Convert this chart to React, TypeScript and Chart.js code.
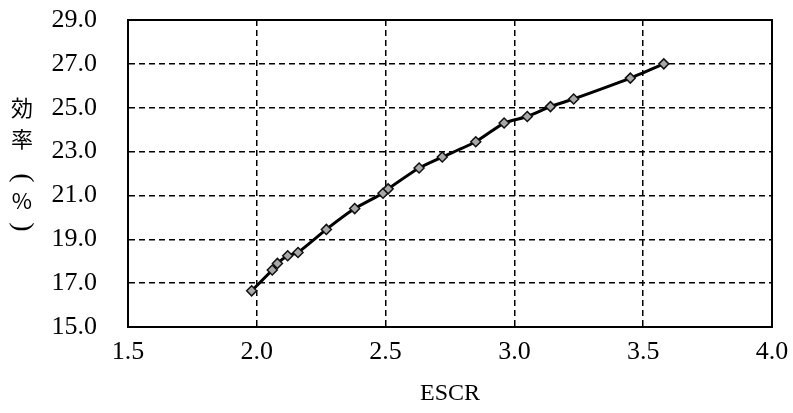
import { useEffect, useRef } from "react";
import { Chart, registerables } from "chart.js";

Chart.register(...registerables);

// ESCR vs. efficiency samples
const escr = [1.98, 2.06, 2.08, 2.12, 2.16, 2.27, 2.38, 2.49, 2.51, 2.63, 2.72, 2.85, 2.96, 3.05, 3.14, 3.23, 3.45, 3.58];
const efficiency = [16.65, 17.6, 17.9, 18.25, 18.4, 19.45, 20.4, 21.1, 21.3, 22.25, 22.75, 23.45, 24.3, 24.6, 25.05, 25.4, 26.35, 27.0];

const xTitle = "ESCR";
// vertical axis title, one glyph per row; brackets are turned sideways
const yTitleChars = ["効", "率", "(", "%", ")"];
const yTitleRotate = [false, false, true, false, true];
const yTitleFonts = [
  "22px 'Noto Sans CJK JP', sans-serif",
  "22px 'Noto Sans CJK JP', sans-serif",
  "28px 'Liberation Serif', serif",
  "22px 'Noto Sans CJK JP', sans-serif",
  "28px 'Liberation Serif', serif",
];
const yTitleOffsets = [108, 139, 178, 201, 227];

const tickFont = { family: "'Liberation Serif', serif", size: 26 };

const verticalTitle = {
  id: "verticalTitle",
  afterDraw(chart: Chart) {
    const ctx = chart.ctx;
    ctx.save();
    ctx.fillStyle = "#000";
    ctx.textAlign = "center";
    ctx.textBaseline = "middle";
    yTitleChars.forEach((ch, i) => {
      ctx.save();
      ctx.font = yTitleFonts[i];
      ctx.translate(22, yTitleOffsets[i]);
      if (yTitleRotate[i]) ctx.rotate(Math.PI / 2);
      ctx.fillText(ch, 0, 0);
      ctx.restore();
    });
    ctx.restore();
  },
};

const frame = {
  id: "frame",
  afterDatasetsDraw(c: Chart) {
    const { ctx, chartArea: a } = c;
    ctx.save();
    ctx.strokeStyle = "#000";
    ctx.lineWidth = 2;
    ctx.strokeRect(a.left, a.top, a.right - a.left, a.bottom - a.top);
    ctx.restore();
  },
};

export default function App() {
  const ref = useRef<HTMLCanvasElement | null>(null);

  useEffect(() => {
    if (!ref.current) return;
    const chart = new Chart(ref.current, {
      type: "line",
      data: {
        datasets: [
          {
            data: escr.map((x, i) => ({ x, y: efficiency[i] })),
            borderColor: "#000",
            borderWidth: 3,
            pointStyle: "rectRot",
            pointRadius: 5,
            pointBackgroundColor: "#a8a8a8",
            pointBorderColor: "#111",
            pointBorderWidth: 1.5,
            tension: 0.2,
          },
        ],
      },
      options: {
        animation: false,
        responsive: false,
        plugins: { legend: { display: false }, tooltip: { enabled: false } },
        layout: { padding: { left: 0, right: 21, top: 20, bottom: 0 } },
        scales: {
          x: {
            type: "linear",
            min: 1.5,
            max: 4.0,
            afterFit: (s: any) => {
              s.height = 86;
            },
            ticks: {
              stepSize: 0.5,
              color: "#000",
              font: tickFont,
              padding: 2,
              maxRotation: 0,
              callback: (v: any) => Number(v).toFixed(1),
            },
            grid: {
              color: (c: any) => (c.tick && (c.tick.value === 1.5 || c.tick.value === 4) ? "rgba(0,0,0,0)" : "#000"),
              lineWidth: 1.5,
              drawTicks: true,
              tickLength: 8,
              tickColor: "rgba(0,0,0,0)",
            },
            border: { display: true, color: "#000", width: 2, dash: [6, 4] },
            title: {
              display: true,
              text: xTitle,
              color: "#000",
              font: { family: "'Liberation Serif', serif", size: 24 },
              padding: { top: 0, bottom: 5 },
            },
          },
          y: {
            min: 15,
            max: 29,
            afterFit: (s: any) => {
              s.width = 128;
            },
            ticks: {
              stepSize: 2,
              color: "#000",
              font: tickFont,
              padding: 2,
              callback: (v: any) => Number(v).toFixed(1),
            },
            grid: {
              color: (c: any) => (c.tick && (c.tick.value === 15 || c.tick.value === 29) ? "rgba(0,0,0,0)" : "#000"),
              lineWidth: 1.5,
              drawTicks: true,
              tickLength: 29,
              tickColor: "rgba(0,0,0,0)",
            },
            border: { display: true, color: "#000", width: 2, dash: [6, 4] },
          },
        },
      },
      plugins: [verticalTitle, frame],
    } as any);
    return () => chart.destroy();
  }, []);

  return (
    <div style={{ position: "fixed", left: 0, top: 0, width: 793, height: 413, background: "#fff" }}>
      <canvas ref={ref} width={793} height={413} style={{ display: "block" }} />
    </div>
  );
}
